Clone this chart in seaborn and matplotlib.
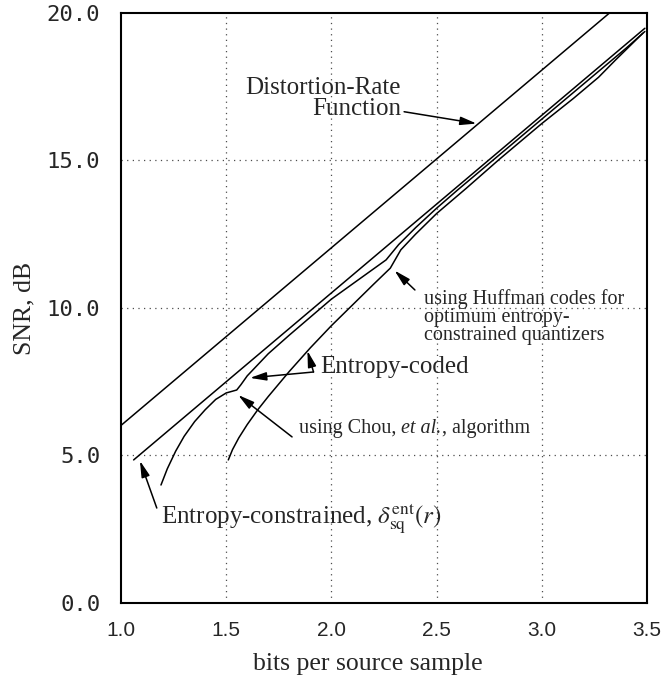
import matplotlib
matplotlib.use("Agg")
import matplotlib.pyplot as plt
import seaborn as sns
import pandas as pd

# Rate (bits per source sample) and SNR (dB) for each curve
rate_dr = [1.0, 3.5]
snr_dr = [6.02, 21.07]

rate_ec = [1.06, 1.5, 2.0, 2.5, 3.0, 3.49]
snr_ec = [4.85, 7.50, 10.51, 13.52, 16.53, 19.48]

rate_chou = [1.19, 1.22, 1.26, 1.30, 1.35, 1.40, 1.45, 1.50, 1.55, 1.57, 1.60,
             1.70, 1.80, 2.00, 2.26, 2.32, 2.40, 2.50, 2.60, 2.80, 3.00, 3.20,
             3.40, 3.49]
snr_chou = [4.00, 4.55, 5.15, 5.65, 6.15, 6.55, 6.90, 7.12, 7.22, 7.40, 7.70,
            8.45, 9.08, 10.30, 11.63, 12.15, 12.72, 13.38, 14.00, 15.20, 16.40,
            17.60, 18.80, 19.37]

rate_huff = [1.51, 1.53, 1.56, 1.60, 1.65, 1.70, 1.80, 1.90, 2.00, 2.10, 2.20,
             2.28, 2.33, 2.40, 2.50, 2.64, 2.80, 3.00, 3.15, 3.27, 3.35, 3.48]
snr_huff = [4.85, 5.20, 5.60, 6.05, 6.55, 7.00, 7.85, 8.65, 9.40, 10.10, 10.80,
            11.35, 11.97, 12.50, 13.20, 14.05, 15.05, 16.25, 17.10, 17.82,
            18.40, 19.31]

x_ticks = [1.0, 1.5, 2.0, 2.5, 3.0, 3.5]
y_ticks = [0.0, 5.0, 10.0, 15.0, 20.0]
x_tick_labels = ["1.0", "1.5", "2.0", "2.5", "3.0", "3.5"]
y_tick_labels = ["0.0", "5.0", "10.0", "15.0", "20.0"]

sns.set_theme(style="white")
plt.rcParams["font.family"] = ["Liberation Serif", "DejaVu Serif"]
plt.rcParams["mathtext.fontset"] = "stix"

fig = plt.figure(figsize=(6.62, 6.8), dpi=100)
ax = fig.add_axes([0.1828, 0.1132, 0.7945, 0.8678])

curves = [
    (rate_dr, snr_dr),
    (rate_ec, snr_ec),
    (rate_chou, snr_chou),
    (rate_huff, snr_huff),
]
for r, s in curves:
    df = pd.DataFrame({"rate": r, "snr": s})
    sns.lineplot(data=df, x="rate", y="snr", sort=False, estimator=None,
                 color="black", linewidth=1.1, ax=ax)

ax.set_xlim(1.0, 3.5)
ax.set_ylim(0.0, 20.0)
ax.set_xticks(x_ticks)
ax.set_xticklabels(x_tick_labels, family="Liberation Sans", fontsize=15)
ax.set_yticks(y_ticks)
ax.set_yticklabels(y_tick_labels, family="DejaVu Sans Mono", fontsize=16)
ax.tick_params(axis="both", direction="in", length=9, width=1.5,
               color="black", top=False, right=False)
ax.tick_params(axis="x", pad=13)
ax.tick_params(axis="y", pad=15)

for side in ["left", "right", "top", "bottom"]:
    ax.spines[side].set_visible(True)
    ax.spines[side].set_color("black")
    ax.spines[side].set_linewidth(1.5)

# dotted grid at the inner ticks
for gx in x_ticks[1:-1]:
    ax.axvline(gx, color="0.3", linestyle=(0, (1, 3.5)), linewidth=0.9, zorder=0)
for gy in y_ticks[1:-1]:
    ax.axhline(gy, color="0.3", linestyle=(0, (1, 3.5)), linewidth=0.9, zorder=0)

ax.set_xlabel("bits per source sample", fontsize=18.5, labelpad=6)
ax.set_ylabel("SNR, dB", fontsize=18.5, labelpad=8)
ax.xaxis.set_label_coords(0.47, -0.085)

arrow = dict(arrowstyle="-|>,head_length=0.7,head_width=0.18", color="black",
             lw=1.1, shrinkA=0, shrinkB=0, mutation_scale=14)

ax.annotate("Distortion-Rate\nFunction", xy=(2.69, 16.25), xytext=(2.33, 17.1),
            ha="right", va="center", fontsize=18, linespacing=0.95,
            multialignment="right", arrowprops=arrow)

ax.text(2.44, 10.65, "using Huffman codes for\noptimum entropy-\nconstrained quantizers",
        ha="left", va="top", fontsize=14.5, linespacing=0.95)
ax.annotate("", xy=(2.30, 11.27), xytext=(2.397, 10.61), arrowprops=arrow)

ax.text(1.946, 7.8, "Entropy-coded", ha="left", va="baseline", fontsize=18)
ax.annotate("", xy=(1.613, 7.63), xytext=(1.915, 7.83), arrowprops=arrow)
ax.annotate("", xy=(1.886, 8.55), xytext=(1.915, 7.83), arrowprops=arrow)

# Chou label in three pieces so that "et al." can be set in italics
t1 = ax.text(1.846, 5.76, "using Chou, ", ha="left", va="baseline",
             fontsize=14.5)
t2 = ax.annotate("et al.", xy=(1, 0), xycoords=t1, ha="left", va="bottom",
                 fontsize=14.5, style="italic")
ax.annotate(", algorithm", xy=(1, 0), xycoords=t2, ha="left", va="bottom",
            fontsize=14.5)
ax.annotate("", xy=(1.557, 7.05), xytext=(1.813, 5.63), arrowprops=arrow)

ax.text(1.19, 2.71, r"Entropy-constrained, $\delta_{\rm sq}^{\rm ent}(r)$",
        ha="left", va="baseline", fontsize=18)
ax.annotate("", xy=(1.09, 4.82), xytext=(1.17, 3.22), arrowprops=arrow)

fig.savefig("out.png", dpi=100)
